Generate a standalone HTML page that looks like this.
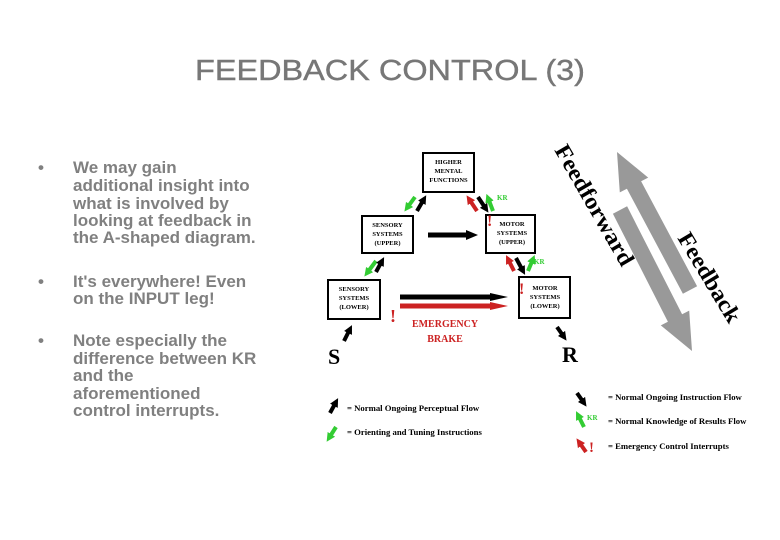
<!DOCTYPE html>
<html><head><meta charset="utf-8"><style>
html,body{margin:0;padding:0;background:#fff;}
svg{display:block}
.b{font-family:"Liberation Sans",Arial,sans-serif;font-weight:bold;font-size:17px;fill:#808080}
.bx{font-family:"Liberation Serif",serif;font-weight:bold;font-size:6.5px;fill:#000}
.lg{font-family:"Liberation Serif",serif;font-weight:bold;font-size:8.7px;fill:#000}
</style></head><body>
<svg width="780" height="540" viewBox="0 0 780 540" xmlns="http://www.w3.org/2000/svg">
<defs>
<marker id="hk" viewBox="0 0 10 10" refX="5" refY="5" markerWidth="2.2" markerHeight="2.2" orient="auto"><path d="M0,0 L10,5 L0,10 z" fill="#000"/></marker>
<marker id="hg" viewBox="0 0 10 10" refX="5" refY="5" markerWidth="2.2" markerHeight="2.2" orient="auto"><path d="M0,0 L10,5 L0,10 z" fill="#3c3"/></marker>
<marker id="hr" viewBox="0 0 10 10" refX="5" refY="5" markerWidth="2.2" markerHeight="2.2" orient="auto"><path d="M0,0 L10,5 L0,10 z" fill="#c22"/></marker>
</defs>
<text x="390" y="80" text-anchor="middle" font-family="Liberation Sans,Arial,sans-serif" font-size="29" fill="#777" stroke="#777" stroke-width="0.4" textLength="390" lengthAdjust="spacingAndGlyphs">FEEDBACK CONTROL (3)</text>

<g class="b">
<text x="38" y="173">•</text>
<text x="73" y="173">We may gain</text>
<text x="73" y="191">additional insight into</text>
<text x="73" y="209">what is involved by</text>
<text x="73" y="226">looking at feedback in</text>
<text x="73" y="243">the A-shaped diagram.</text>
<text x="38" y="287">•</text>
<text x="73" y="287">It's everywhere! Even</text>
<text x="73" y="304">on the INPUT leg!</text>
<text x="38" y="346">•</text>
<text x="73" y="346">Note especially the</text>
<text x="73" y="364">difference between KR</text>
<text x="73" y="381">and the</text>
<text x="73" y="399">aforementioned</text>
<text x="73" y="416">control interrupts.</text>
</g>

<g fill="#fff" stroke="#000" stroke-width="2">
<rect x="423" y="153" width="51" height="39"/>
<rect x="362" y="216" width="51" height="37"/>
<rect x="486" y="215" width="49" height="38"/>
<rect x="328" y="280" width="52" height="39"/>
<rect x="519" y="277" width="51" height="41"/>
</g>
<g class="bx" text-anchor="middle">
<text x="448.5" y="164">HIGHER</text><text x="448.5" y="173">MENTAL</text><text x="448.5" y="182">FUNCTIONS</text>
<text x="387.5" y="227">SENSORY</text><text x="387.5" y="236">SYSTEMS</text><text x="387.5" y="245">(UPPER)</text>
<text x="512" y="226">MOTOR</text><text x="512" y="235">SYSTEMS</text><text x="512" y="244">(UPPER)</text>
<text x="354" y="291">SENSORY</text><text x="354" y="300">SYSTEMS</text><text x="354" y="309">(LOWER)</text>
<text x="545" y="290">MOTOR</text><text x="545" y="299">SYSTEMS</text><text x="545" y="308">(LOWER)</text>
</g>

<line x1="428" y1="235" x2="468" y2="235" stroke="#000" stroke-width="5"/>
<polygon points="466,230 478,235 466,240" fill="#000"/>
<line x1="400" y1="297" x2="495" y2="297" stroke="#000" stroke-width="5"/>
<polygon points="490,293 508,297 490,301" fill="#000"/>
<line x1="400" y1="306" x2="495" y2="306" stroke="#c22" stroke-width="5"/>
<polygon points="490,302 508,306 490,310" fill="#c22"/>

<g stroke-width="4">
<line x1="415" y1="197" x2="407" y2="208" stroke="#3c3" marker-end="url(#hg)"/>
<line x1="417" y1="211" x2="424" y2="199" stroke="#000" marker-end="url(#hk)"/>
<line x1="477" y1="211" x2="469" y2="199" stroke="#c22" marker-end="url(#hr)"/>
<line x1="478" y1="197" x2="486" y2="209" stroke="#000" marker-end="url(#hk)"/>
<line x1="493" y1="211" x2="488" y2="198" stroke="#3c3" marker-end="url(#hg)"/>
<line x1="376" y1="261" x2="367" y2="273" stroke="#3c3" marker-end="url(#hg)"/>
<line x1="376" y1="272" x2="382" y2="261" stroke="#000" marker-end="url(#hk)"/>
<line x1="514" y1="271" x2="508" y2="259" stroke="#c22" marker-end="url(#hr)"/>
<line x1="516" y1="258" x2="523" y2="271" stroke="#000" marker-end="url(#hk)"/>
<line x1="528" y1="271" x2="533" y2="259" stroke="#3c3" marker-end="url(#hg)"/>
<line x1="344" y1="341" x2="350" y2="329" stroke="#000" marker-end="url(#hk)"/>
<line x1="557" y1="327" x2="564" y2="337" stroke="#000" marker-end="url(#hk)"/>
</g>
<g font-family="Liberation Serif,serif" font-weight="bold" fill="#3c3" font-size="7">
<text x="497" y="200">KR</text><text x="534" y="264">KR</text>
</g>
<g font-family="Liberation Serif,serif" font-weight="bold" fill="#c22">
<text x="487" y="226" font-size="16">!</text>
<text x="519" y="294" font-size="16">!</text>
<text x="390" y="322" font-size="18">!</text>
<text x="445" y="327" font-size="10" text-anchor="middle">EMERGENCY</text>
<text x="445" y="342" font-size="10" text-anchor="middle">BRAKE</text>
</g>
<g font-family="Liberation Serif,serif" font-weight="bold" font-size="22" fill="#000">
<text x="328" y="364">S</text><text x="562" y="362">R</text>
</g>

<polygon points="627.1,206.3 682.1,314.3 689.2,310.6 692,351 660.8,325.4 667.9,321.7 612.9,213.7" fill="#999"/>
<polygon points="697.1,286.3 641.1,181.3 648.2,177.6 617,152 619.8,192.4 626.9,188.7 682.9,293.7" fill="#999"/>
<g font-family="Liberation Serif,serif" font-weight="bold" font-size="23" fill="#000">
<text transform="translate(554,150) rotate(60)" textLength="136" lengthAdjust="spacingAndGlyphs">Feedforward</text>
<text transform="translate(677,238) rotate(59)" textLength="101" lengthAdjust="spacingAndGlyphs">Feedback</text>
</g>

<g stroke-width="4">
<line x1="330" y1="413" x2="336" y2="402" stroke="#000" marker-end="url(#hk)"/>
<line x1="336" y1="427" x2="329" y2="438" stroke="#3c3" marker-end="url(#hg)"/>
<line x1="577" y1="393" x2="584" y2="403" stroke="#000" marker-end="url(#hk)"/>
<line x1="584" y1="427" x2="578" y2="415" stroke="#3c3" marker-end="url(#hg)"/>
<line x1="586" y1="452" x2="579" y2="442" stroke="#c22" marker-end="url(#hr)"/>
</g>
<text x="587" y="420" font-family="Liberation Serif,serif" font-weight="bold" font-size="7" fill="#3c3">KR</text>
<text x="589" y="452" font-family="Liberation Serif,serif" font-weight="bold" font-size="15" fill="#c22">!</text>
<g class="lg">
<text x="347" y="411">= Normal Ongoing Perceptual Flow</text>
<text x="347" y="435">= Orienting and Tuning Instructions</text>
<text x="608" y="400">= Normal Ongoing Instruction Flow</text>
<text x="608" y="424">= Normal Knowledge of Results Flow</text>
<text x="608" y="449">= Emergency Control Interrupts</text>
</g>
</svg>
</body></html>
